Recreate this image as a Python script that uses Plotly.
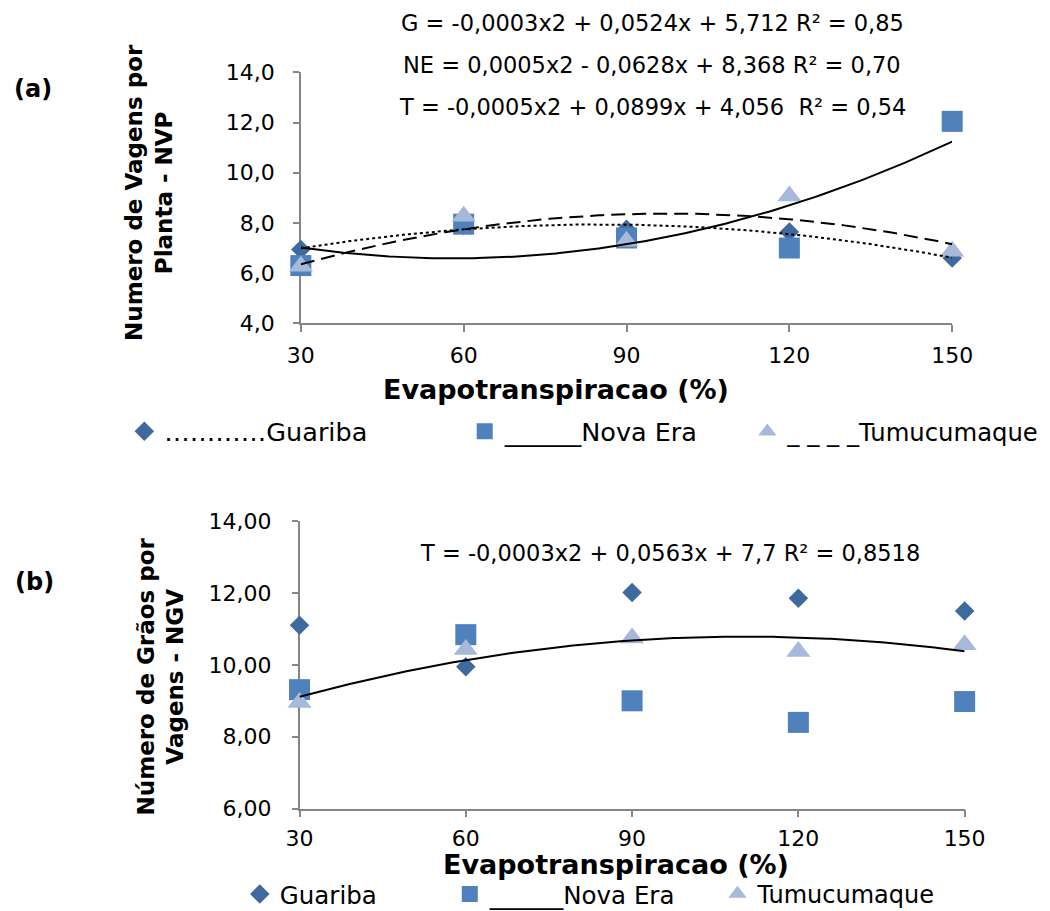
import numpy as np
import plotly.graph_objects as go

# ---------------- data ----------------
x_et = [30, 60, 90, 120, 150]

# panel (a): Numero de Vagens por Planta - NVP
nvp_guariba = [6.94, 7.90, 7.75, 7.64, 6.60]
nvp_novaera = [6.30, 7.95, 7.40, 7.00, 12.05]
nvp_tumucumaque = [6.27, 8.27, 7.27, 9.07, 6.87]

# panel (b): Numero de Graos por Vagens - NGV
ngv_guariba = [11.10, 9.95, 12.01, 11.85, 11.50]
ngv_novaera = [9.31, 10.84, 9.00, 8.40, 8.98]
ngv_tumucumaque = [8.95, 10.43, 10.75, 10.37, 10.56]

ytick_a_vals = [4, 6, 8, 10, 12, 14]
ytick_a_text = ["4,0", "6,0", "8,0", "10,0", "12,0", "14,0"]
ytick_b_vals = [6, 8, 10, 12, 14]
ytick_b_text = ["6,00", "8,00", "10,00", "12,00", "14,00"]

eq_a = ["G = -0,0003x2 + 0,0524x + 5,712 R² = 0,85",
        "NE = 0,0005x2 - 0,0628x + 8,368 R² = 0,70",
        "T = -0,0005x2 + 0,0899x + 4,056  R² = 0,54"]
eq_b = "T = -0,0003x2 + 0,0563x + 7,7 R² = 0,8518"

names_a = ["…………Guariba", "______Nova Era", "_ _ _ _Tumucumaque"]
names_b = ["Guariba", "______Nova Era", "Tumucumaque"]

# ---------------- style ----------------
FW, FH = 1072, 928
S, A = 0.972, 10.8          # observed page scale / offset in the snapshot
FONT = "DejaVu Sans, Arial, sans-serif"
C_G = "#3F6A9D"
C_NE = "#4F81BD"
C_T = "#A7B9D9"
AXC = "#868686"


def px(x):
    return ((x - A) / S) / FW


def py(y):
    return 1 - ((y - A) / S) / FH


def trend(xs, ys):
    c = np.polyfit(xs, ys, 2)
    xx = np.linspace(min(xs), max(xs), 200)
    return xx, np.polyval(c, xx)


fig = go.Figure()

series_a = [(nvp_guariba, "diamond", C_G, 15, "legend"),
            (nvp_novaera, "square", C_NE, 21, "legend2"),
            (nvp_tumucumaque, "triangle-up", C_T, 21, "legend3")]
series_b = [(ngv_guariba, "diamond", C_G, 15, "legend4"),
            (ngv_novaera, "square", C_NE, 21, "legend5"),
            (ngv_tumucumaque, "triangle-up", C_T, 21, "legend6")]

for (ys, sym, col, sz, lg), nm in zip(series_a, names_a):
    fig.add_trace(go.Scatter(x=x_et, y=ys, mode="markers", name=nm, cliponaxis=False,
                             marker=dict(symbol=sym, color=col, size=sz),
                             xaxis="x", yaxis="y", legend=lg))
for (ys, sym, col, sz, lg), nm in zip(series_b, names_b):
    fig.add_trace(go.Scatter(x=x_et, y=ys, mode="markers", name=nm, cliponaxis=False,
                             marker=dict(symbol=sym, color=col, size=sz),
                             xaxis="x2", yaxis="y2", legend=lg))

# trendlines (quadratic fits)
for ys, dash in [(nvp_guariba, "dot"), (nvp_novaera, "solid"), (nvp_tumucumaque, "14px,7px")]:
    xx, yy = trend(x_et, ys)
    fig.add_trace(go.Scatter(x=xx, y=yy, mode="lines", showlegend=False, hoverinfo="skip",
                             cliponaxis=False,
                             line=dict(color="black", width=2, dash=dash),
                             xaxis="x", yaxis="y"))
xx, yy = trend(x_et, ngv_tumucumaque)
fig.add_trace(go.Scatter(x=xx, y=yy, mode="lines", showlegend=False, hoverinfo="skip",
                         cliponaxis=False,
                         line=dict(color="black", width=2),
                         xaxis="x2", yaxis="y2"))

axis_common = dict(showline=True, linecolor=AXC, linewidth=1.5, ticks="outside",
                   tickcolor=AXC, tickwidth=1.5, showgrid=False, zeroline=False,
                   layer="below traces",
                   tickfont=dict(family=FONT, size=22, color="black"))

fig.update_layout(
    width=FW, height=FH,
    margin=dict(l=0, r=0, t=0, b=0),
    paper_bgcolor="white", plot_bgcolor="white",
    font=dict(family=FONT, color="black"),
    xaxis=dict(domain=[px(299), px(953.5)], range=[30, 150], anchor="y",
               tickvals=x_et, ticklen=7, ticklabelstandoff=5, **axis_common),
    yaxis=dict(domain=[py(321.7), py(71.2)], range=[4, 14], anchor="x",
               tickvals=ytick_a_vals, ticktext=ytick_a_text, ticklen=6,
               ticklabelstandoff=14, **axis_common),
    xaxis2=dict(domain=[px(297.7), px(966)], range=[30, 150], anchor="y2",
                tickvals=x_et, ticklen=7, ticklabelstandoff=2, **axis_common),
    yaxis2=dict(domain=[py(806.6), py(519.3)], range=[6, 14], anchor="x2",
                tickvals=ytick_b_vals, ticktext=ytick_b_text, ticklen=6,
                ticklabelstandoff=16, **axis_common),
)

leg_common = dict(orientation="h", yanchor="middle", xanchor="left",
                  bgcolor="rgba(0,0,0,0)", itemclick=False, itemdoubleclick=False)
leg_pos = {"legend": (145, 430, 25.5), "legend2": (487, 430, 25.5), "legend3": (771, 430, 24.3),
           "legend4": (261, 892, 24.5), "legend5": (472, 892, 24.5), "legend6": (741, 892, 24)}
for k, (cx, cy, fs) in leg_pos.items():
    fig.update_layout({k: dict(x=px(cx) - 24 / FW, y=py(cy),
                               font=dict(family=FONT, size=fs, color="black"), **leg_common)})

anns = []
for i, t in enumerate(eq_a):
    anns.append(dict(text=t, x=px(652), y=py(22 + 42 * i), xref="paper", yref="paper",
                     showarrow=False, xanchor="center", yanchor="middle",
                     font=dict(family=FONT, size=22.5)))
anns.append(dict(text=eq_b, x=px(670), y=py(551), xref="paper", yref="paper",
                 showarrow=False, xanchor="center", yanchor="middle",
                 font=dict(family=FONT, size=22.5)))
ytitle_font = dict(family=FONT, size=23, color="black")
xtitle_font = dict(family=FONT, size=27, color="black")
tag_font = dict(family=FONT, size=24, color="black")
anns += [
    dict(text="<b>(a)</b>", x=px(30), y=py(88), xref="paper", yref="paper", showarrow=False,
         xanchor="center", yanchor="middle", font=tag_font),
    dict(text="<b>(b)</b>", x=px(31), y=py(580), xref="paper", yref="paper", showarrow=False,
         xanchor="center", yanchor="middle", font=tag_font),
    dict(text="<b>Numero de Vagens por<br>Planta - NVP</b>", x=px(147), y=py(191),
         xref="paper", yref="paper", showarrow=False, textangle=-90,
         xanchor="center", yanchor="middle", font=ytitle_font),
    dict(text="<b>Número de Grãos por<br>Vagens - NGV</b>", x=px(158), y=py(674),
         xref="paper", yref="paper", showarrow=False, textangle=-90,
         xanchor="center", yanchor="middle", font=ytitle_font),
    dict(text="<b>Evapotranspiracao (%)</b>", x=px(555), y=py(388), xref="paper", yref="paper",
         showarrow=False, xanchor="center", yanchor="middle", font=xtitle_font),
    dict(text="<b>Evapotranspiracao (%)</b>", x=px(616), y=py(862), xref="paper", yref="paper",
         showarrow=False, xanchor="center", yanchor="middle", font=xtitle_font),
]
fig.update_layout(annotations=anns)

fig.write_html("out.html", config={"displayModeBar": False},
               post_script="document.body.style.margin='0px';document.body.style.overflow='hidden';")
